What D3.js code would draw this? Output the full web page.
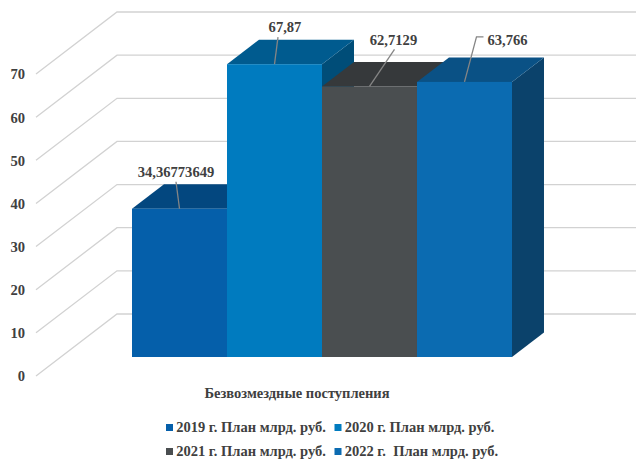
<!DOCTYPE html>
<html lang="ru">
<head>
<meta charset="utf-8">
<script src="https://cdn.jsdelivr.net/npm/d3@7/dist/d3.min.js"></script>
<style>
  html, body { margin: 0; padding: 0; background: #fff; }
  svg { display: block; }
  text { font-family: "Liberation Serif", serif; font-weight: bold; fill: #404040; white-space: pre; }
</style>
</head>
<body>
<svg id="chart" width="636" height="459"></svg>
<script>
// Chart data
const category = "Безвозмездные поступления";
const seriesNames = ["2019 г. План млрд. руб.", "2020 г. План млрд. руб.", "2021 г. План млрд. руб.", "2022 г.  План млрд. руб."];
const seriesValues = [34.36773649, 67.87, 62.7129, 63.766];
const tickValues = [0, 10, 20, 30, 40, 50, 60, 70];

// Face colours per series
const frontColors = ["#055FAA", "#007BBF", "#4A4E50", "#0B6BB1"];
const topColors = ["#03477F", "#005B8F", "#36393B", "#0A5185"];
const sideColors = ["#033F70", "#004D78", "#2F3234", "#0B426B"];

// Leader lines and label anchors for each value, relative to the top centre of the bar
const labelLayout = [
  { knee: [-3.5, -27], text: [-3.5, -37], anchor: "middle" },
  { knee: [3.5, -27], text: [10.5, -37.5], anchor: "middle" },
  { knee: [25, -37], text: [24, -46.5], anchor: "middle" },
  { knee: [12, -45], elbow: [19, -45], text: [23, -42], anchor: "start" }
];

const svg = d3.select("#chart");

// Oblique projection: the back wall sits up and to the right of the axis plane
const wallDepth = { dx: 81, dy: -62 };
const barDepth = { dx: 32, dy: -24.5 };
const barPlane = { dx: 24.8, dy: -19 };

const y = d3.scaleLinear().domain([0, 70]).range([376, 74]);
const xWall = [36, 558.4];

const categoryScale = d3.scaleBand().domain([category]).range(xWall.map(d => d + barPlane.dx)).paddingInner(0).paddingOuter(0.1874);
const seriesScale = d3.scaleBand().domain(seriesNames).range([categoryScale(category), categoryScale(category) + categoryScale.bandwidth()]);

// Gridlines: diagonal along the side wall, then horizontal along the back wall
const grid = svg.append("g").attr("fill", "none");
grid.selectAll("path").data(tickValues).join("path")
  .attr("d", d => {
    const p = d3.path();
    p.moveTo(xWall[0], y(d));
    p.lineTo(xWall[0] + wallDepth.dx, y(d) + wallDepth.dy);
    p.lineTo(636, y(d) + wallDepth.dy);
    return p.toString();
  })
  .attr("stroke", "#D2D2D2")
  .attr("stroke-width", 1.3);

// Value axis
const axis = d3.axisLeft(y).tickValues(tickValues).tickSize(0).tickPadding(0).tickFormat(d3.format("d"));
svg.append("g")
  .attr("transform", "translate(25,0)")
  .call(axis)
  .call(g => g.select(".domain").remove())
  .call(g => g.selectAll("text")
    .attr("font-family", null)
    .style("font-size", "14.6px")
    .attr("dy", "0.34em"));

// Bars, drawn left to right so nearer faces cover the sides of earlier bars
const bars = svg.append("g").selectAll("g").data(seriesNames).join("g");
bars.each(function (name, i) {
  const g = d3.select(this);
  const x0 = seriesScale(name);
  const x1 = x0 + seriesScale.bandwidth();
  const yBase = y(0) + barPlane.dy;
  const yTop = y(seriesValues[i]) + barPlane.dy;
  const poly = pts => pts.map(p => p.join(",")).join(" ");

  g.append("polygon").attr("fill", sideColors[i]).attr("points", poly([
    [x1, yTop], [x1 + barDepth.dx, yTop + barDepth.dy],
    [x1 + barDepth.dx, yBase + barDepth.dy], [x1, yBase]
  ]));
  g.append("polygon").attr("fill", topColors[i]).attr("points", poly([
    [x0, yTop], [x0 + barDepth.dx, yTop + barDepth.dy],
    [x1 + barDepth.dx, yTop + barDepth.dy], [x1, yTop]
  ]));
  g.append("rect").attr("fill", frontColors[i])
    .attr("x", x0).attr("y", yTop)
    .attr("width", x1 - x0).attr("height", yBase - yTop);
});

// Data labels with leader lines
const labels = svg.append("g");
seriesNames.forEach((name, i) => {
  const layout = labelLayout[i];
  const cx = seriesScale(name) + seriesScale.bandwidth() / 2;
  const cy = y(seriesValues[i]) + barPlane.dy;
  const line = d3.path();
  line.moveTo(cx, cy);
  line.lineTo(cx + layout.knee[0], cy + layout.knee[1]);
  if (layout.elbow) line.lineTo(cx + layout.elbow[0], cy + layout.elbow[1]);
  labels.append("path").attr("d", line.toString())
    .attr("fill", "none").attr("stroke", "#858585").attr("stroke-width", 1.3);
  labels.append("text")
    .attr("x", cx + layout.text[0])
    .attr("y", cy + layout.text[1])
    .attr("dy", "0.34em")
    .attr("text-anchor", layout.anchor)
    .style("font-size", "14.6px")
    .text(String(seriesValues[i]).replace(".", ","));
});

// Category label
svg.append("text")
  .attr("x", 297).attr("y", 393.5).attr("dy", "0.34em")
  .attr("text-anchor", "middle")
  .style("font-size", "14.5px")
  .text(category);

// Legend in two rows of two
const legendX = [166, 334.5];
const legendY = [427.5, 451.5];
const legend = svg.append("g").selectAll("g").data(seriesNames).join("g")
  .attr("transform", (d, i) => `translate(${legendX[i % 2]},${legendY[Math.floor(i / 2)]})`);
legend.append("rect")
  .attr("x", 0).attr("y", -3.5).attr("width", 7).attr("height", 7)
  .attr("fill", (d, i) => frontColors[i]);
legend.append("text")
  .attr("x", 10.2).attr("dy", "0.34em")
  .style("font-size", "14.5px")
  .text(d => d);
</script>
</body>
</html>
